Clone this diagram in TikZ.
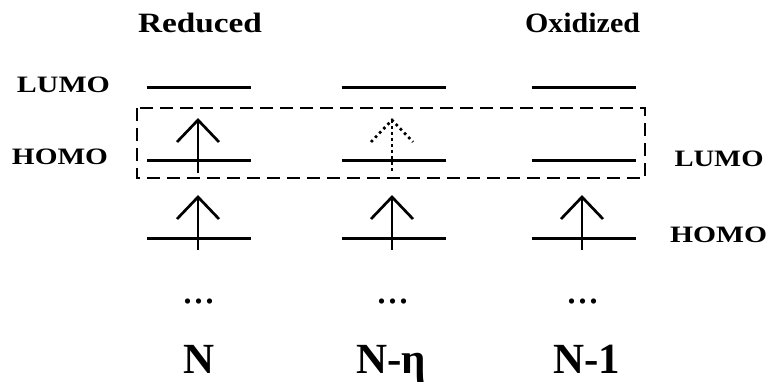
\documentclass[tikz,border=0pt]{standalone}
\usepackage{fontspec}
\usepackage{graphicx}
\setmainfont{Liberation Serif}
\begin{document}
\begin{tikzpicture}[x=1pt,y=-1pt,
  level/.style={line width=3pt},
  spin/.style={line width=2.7pt},
  partial/.style={line width=2.7pt, dash pattern=on 2.6pt off 3.4pt},
  box/.style={line width=1.5pt, dash pattern=on 13pt off 7pt},
  side/.style={font=\fontsize{23.5}{26}\selectfont\bfseries, anchor=base, text depth=0pt},
  head/.style={font=\fontsize{28}{31}\selectfont\bfseries, anchor=base, text depth=0pt},
  count/.style={font=\fontsize{43}{47}\selectfont\bfseries, anchor=base, text depth=0pt, inner sep=0pt},
  ellip/.style={font=\fontsize{44}{48}\selectfont, anchor=base, text depth=0pt, inner sep=0pt},
  pics/spinup/.style={code={
    \draw (0,0) -- (0,53);
    \draw (-21,22) -- (0,0) -- (21,22);
  }}
]
\useasboundingbox (0,0) rectangle (771,382);

% column centres and level heights
\foreach \name/\x in {a/199, b/393.5, c/583.5}{
  \coordinate (\name) at (\x,0);
  \foreach \lev/\y in {top/88, mid/161, low/239}{
    \coordinate (\name-\lev-l) at (\x-52,\y);
    \coordinate (\name-\lev-r) at (\x+52,\y);
    \draw[level] (\name-\lev-l) -- (\name-\lev-r);
  }
}

% frontier orbitals enclosed by the dashed frame
\coordinate (frame-nw) at (137,108);
\coordinate (frame-se) at (645,178);
\draw[box] (frame-nw) rectangle (frame-se);

% electron spins
\pic[spin]    at (198,120) {spinup};
\pic[partial] at (392,120) {spinup};
\pic[spin]    at (198,197) {spinup};
\pic[spin]    at (392,197) {spinup};
\pic[spin]    at (582,197) {spinup};

% column headings
\node[head] (red) at (200,33) {\resizebox{124pt}{\height}{Reduced}};
\node[head] (oxi) at (582.5,33) {\resizebox{115pt}{\height}{Oxidized}};

% orbital labels
\node[side] (lumo-l) at (63.5,93)  {\resizebox{93pt}{\height}{LUMO}};
\node[side] (homo-l) at (60,165)   {\resizebox{96pt}{\height}{HOMO}};
\node[side] (lumo-r) at (719,167)  {\resizebox{89pt}{\height}{LUMO}};
\node[side] (homo-r) at (718.5,243) {\resizebox{97pt}{\height}{HOMO}};

% lower levels continue
\foreach \x in {199,393,583}
  \node[ellip] at (\x,303) {...};

% electron counts
\node[count] (n)   at (199,373) {N};
\node[count] (neta) at (391,373) {N-η};
\node[count] (n1)  at (587,373) {N-1};
\end{tikzpicture}
\end{document}
